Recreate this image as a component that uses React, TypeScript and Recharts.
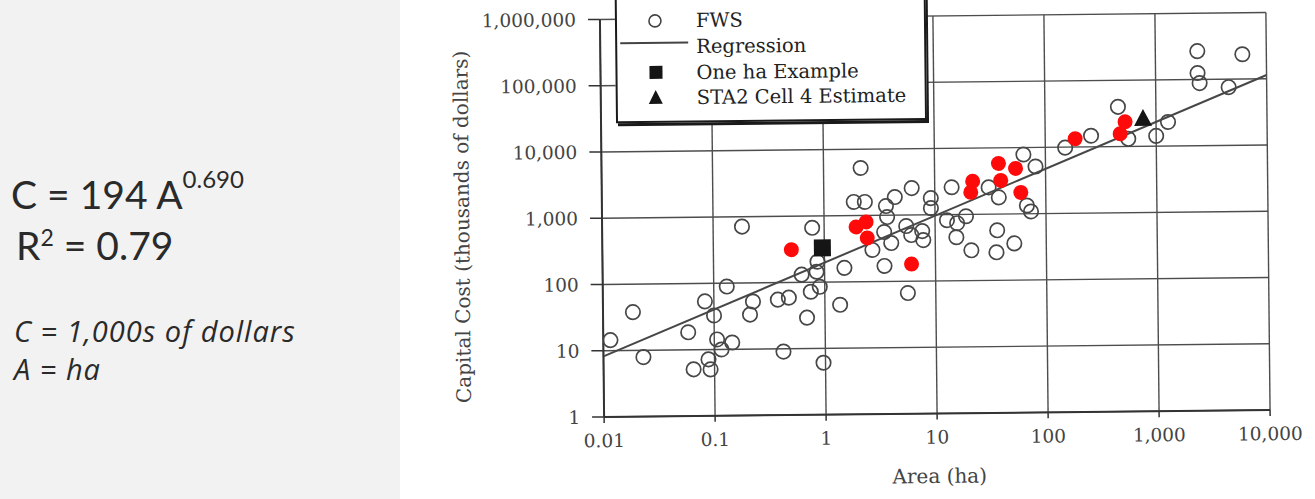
import React from 'react';
import { ScatterChart, Scatter, XAxis, YAxis, CartesianGrid, Legend } from 'recharts';

const xTicks = [0.01, 0.1, 1, 10, 100, 1000, 10000];
const xTickLabels = ['0.01', '0.1', '1', '10', '100', '1,000', '10,000'];
const yTicks = [1, 10, 100, 1000, 10000, 100000, 1000000];
const yTickLabels = ['1', '10', '100', '1,000', '10,000', '100,000', '1,000,000'];

const fwsArea = [0.0116, 0.0186, 0.0229, 0.0583, 0.083, 0.1, 0.0647, 0.092, 0.0883, 0.106,
  0.145, 0.116, 0.131, 0.182, 0.225, 0.211, 0.377, 0.474, 0.621, 0.847,
  0.902, 0.748, 0.688, 1.37, 1.51, 0.419, 0.959, 0.78, 0.865, 2.16,
  6.2, 1.86, 2.34, 3.62, 4.36, 3.7, 3.47, 2.71, 3.47, 4.01,
  5.6, 5.49, 6.08, 7.64, 9.2, 9.2, 14.2, 12.8, 15.5, 19.0,
  21.1, 30.6, 37.7, 36.2, 51.5, 35.5, 67.4, 73.3, 63.4, 81.3,
  151, 259, 455, 560, 1000, 1282, 2390, 6080, 2390, 2490,
  4545, 7.8, 15.8];
const fwsCost = [14.4, 37.8, 7.9, 18.4, 53.5, 32.7, 5.07, 5.03, 7.13, 14.2,
  12.7, 10.0, 89, 711, 52.3, 33.3, 55.4, 59.1, 131, 144,
  85.3, 72, 29.3, 45.3, 163, 9.09, 6.08, 664, 204, 5220,
  2545, 1608, 1600, 1378, 1876, 940, 559, 301, 172, 380,
  66.5, 682, 498, 569, 1259, 1782, 2584, 823, 454, 938,
  287, 2541, 1786, 569, 359, 265, 1334, 1082, 7855, 5150,
  9820, 14720, 39800, 13040, 14290, 23080, 268000, 236600, 125000, 88100,
  75700, 416, 739];

const redArea = [0.504, 1.94, 2.39, 2.44, 6.08, 22.0, 21.1, 37.7, 53.7, 39.4, 59.6, 186, 526, 474];
const redCost = [313, 674, 798, 458, 182, 3150, 2153, 5820, 4850, 3220, 2103, 13370, 23570, 15560];

const exampleArea = [0.96];
const exampleCost = [330];
const sta2Area = [764];
const sta2Cost = [25900];

const regressionArea = [0.01, 10000];
const regressionCost = [8.2, 114000];

const legendLabels = ['FWS', 'Regression', 'One ha Example', 'STA2 Cell 4 Estimate'];

const zip = (xs: number[], ys: number[]) => xs.map((x, i) => ({ x, y: ys[i] }));

const fwsData = zip(fwsArea, fwsCost);
const redData = zip(redArea, redCost);
const exampleData = zip(exampleArea, exampleCost);
const sta2Data = zip(sta2Area, sta2Cost);
const regressionData = zip(regressionArea, regressionCost);

const SERIF = '"DejaVu Serif", "Liberation Serif", serif';
const SANS = "Lato, 'Open Sans', sans-serif";
const SANS_IT = "'Open Sans', Lato, sans-serif";

const OpenCircle = (p: any) => (
  <circle cx={p.cx} cy={p.cy} r={7.2} fill="none" stroke="#474747" strokeWidth={1.7} />
);
const RedDot = (p: any) => <circle cx={p.cx} cy={p.cy} r={7.5} fill="#ff0a0a" />;
const BlackSquare = (p: any) => (
  <rect x={p.cx - 8.5} y={p.cy - 8.5} width={17} height={17} fill="#151515" />
);
const BlackTriangle = (p: any) => (
  <polygon points={`${p.cx},${p.cy - 10} ${p.cx - 9},${p.cy + 7} ${p.cx + 9},${p.cy + 7}`} fill="#151515" />
);
const NoShape = () => null;

const renderLegend = () => {
  const rowY = [24, 50, 76, 101];
  return (
    <div style={{ position: 'relative', width: 311, height: 128, background: '#fff', border: '2px solid #1a1a1a', boxShadow: '2px 3px 0 #1a1a1a', boxSizing: 'border-box' }}>
      <svg width={311} height={128} style={{ position: 'absolute', left: 0, top: 0 }}>
        <circle cx={38} cy={rowY[0]} r={6} fill="none" stroke="#444" strokeWidth={1.6} />
        <line x1={3} x2={71} y1={rowY[1] - 4} y2={rowY[1] - 4} stroke="#444" strokeWidth={2} />
        <rect x={32} y={rowY[2] - 7} width={13} height={13} fill="#151515" />
        <polygon points={`38,${rowY[3] - 8} 31,${rowY[3] + 6} 45,${rowY[3] + 6}`} fill="#151515" />
        {legendLabels.map((t, i) => (
          <text key={t} x={79} y={rowY[i]} fontFamily={SERIF} fontSize={19.5} fill="#222" dominantBaseline="central">{t}</text>
        ))}
      </svg>
    </div>
  );
};

export default function App() {
  return (
    <div style={{ position: 'absolute', left: 0, top: 0, width: 1315, height: 499, background: '#fff', overflow: 'hidden' }}>
      <svg width={400} height={499} style={{ position: 'absolute', left: 0, top: 0 }}>
        <rect x={0} y={0} width={400} height={499} fill="#f2f2f2" />
        <text x={11} y={209} fontFamily={SANS} fontSize={39} fill="#2a2a2a">
          C = 194 A<tspan dy={-21} fontSize={24}>0.690</tspan>
        </text>
        <text x={16} y={260} fontFamily={SANS} fontSize={39} fill="#2a2a2a">
          R<tspan dy={-14} fontSize={23}>2</tspan><tspan dy={14}> = 0.79</tspan>
        </text>
        <text x={14} y={342} fontFamily={SANS_IT} fontSize={29} fontStyle="italic" letterSpacing={1} fill="#2a2a2a">
          C = 1,000s of dollars
        </text>
        <text x={14} y={380} fontFamily={SANS_IT} fontSize={29} fontStyle="italic" letterSpacing={1} fill="#2a2a2a">
          A = ha
        </text>
      </svg>
      <div style={{ position: 'absolute', left: 400, top: 0, transform: 'rotate(-0.6deg)', transformOrigin: '535px 215px' }}>
        <ScatterChart width={915} height={499} margin={{ top: 16, right: 47, bottom: 25.5, left: 82 }}>
          <CartesianGrid stroke="#4d4d4d" strokeWidth={1.4} />
          <XAxis
            type="number"
            dataKey="x"
            scale="log"
            domain={[0.01, 10000]}
            ticks={xTicks}
            allowDataOverflow
            height={60}
            tickSize={6}
            tickMargin={11}
            tickFormatter={(v: number) => xTickLabels[xTicks.indexOf(v)] ?? String(v)}
            tick={{ fill: '#444', fontSize: 18.5, fontFamily: SERIF }}
            axisLine={{ stroke: '#333', strokeWidth: 2 }}
            tickLine={{ stroke: '#333', strokeWidth: 1.5 }}
            label={{
              content: () => (
                <text x={537} y={476} textAnchor="middle" dominantBaseline="central" fontFamily={SERIF} fontSize={20} fill="#444">Area (ha)</text>
              ),
            }}
          />
          <YAxis
            type="number"
            dataKey="y"
            scale="log"
            domain={[1, 1000000]}
            ticks={yTicks}
            allowDataOverflow
            width={120}
            tickSize={12}
            tickMargin={12}
            tickFormatter={(v: number) => yTickLabels[yTicks.indexOf(v)] ?? String(v)}
            tick={{ fill: '#444', fontSize: 18.5, fontFamily: SERIF }}
            axisLine={{ stroke: '#333', strokeWidth: 2 }}
            tickLine={{ stroke: '#333', strokeWidth: 1.5 }}
            label={{
              content: () => (
                <text x={62} y={222} transform="rotate(-90 62 222)" textAnchor="middle" dominantBaseline="central" fontFamily={SERIF} fontSize={20} fill="#444">Capital Cost (thousands of dollars)</text>
              ),
            }}
          />
          <Legend
            verticalAlign="middle"
            layout="horizontal"
            content={renderLegend}
            wrapperStyle={{ position: 'absolute', left: 217, top: -8, width: 311, height: 128 }}
          />
          <Scatter name="FWS" data={fwsData} shape={OpenCircle} isAnimationActive={false} />
          <Scatter name="Regression" data={regressionData} line={{ stroke: '#474747', strokeWidth: 2 }} shape={NoShape} isAnimationActive={false} />
          <Scatter name="Highlighted" data={redData} shape={RedDot} isAnimationActive={false} />
          <Scatter name="One ha Example" data={exampleData} shape={BlackSquare} isAnimationActive={false} />
          <Scatter name="STA2 Cell 4 Estimate" data={sta2Data} shape={BlackTriangle} isAnimationActive={false} />
        </ScatterChart>
      </div>
    </div>
  );
}
